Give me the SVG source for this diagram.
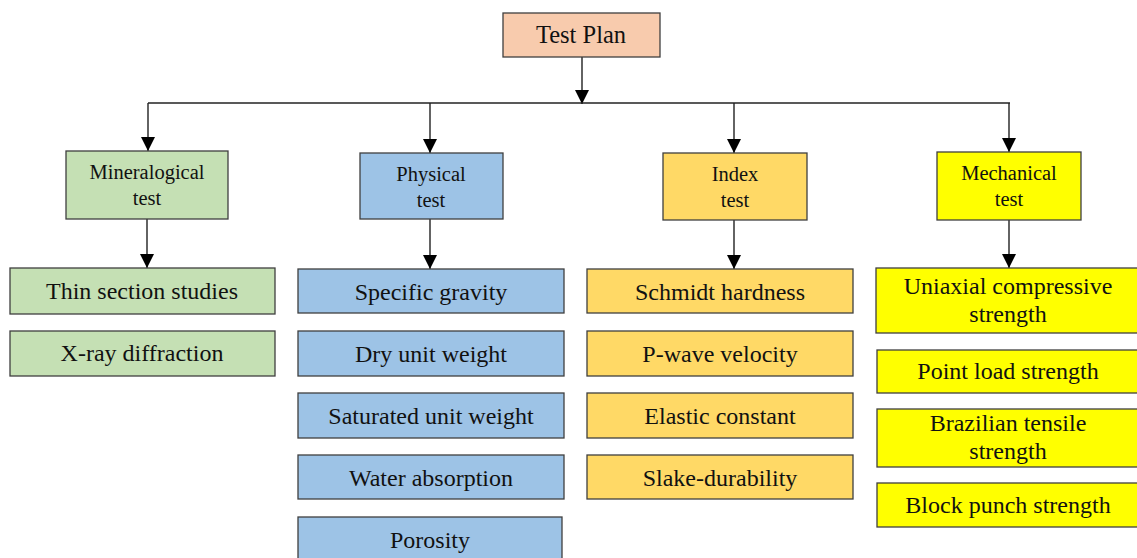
<svg xmlns="http://www.w3.org/2000/svg" width="1137" height="558" viewBox="0 0 1137 558">
<style>
.box{stroke:#3f3f3f;stroke-width:1.3}
.root{fill:#F8CBAD}
.min{fill:#C5E0B4}
.phy{fill:#9DC3E6}
.idx{fill:#FFD966}
.mec{fill:#FFFF00}
text{font-family:"Liberation Serif","Times New Roman",serif;fill:#111;text-anchor:middle}
.t1{font-size:24.5px}
.t2{font-size:20.5px}
.t3{font-size:24px}
.ln{stroke:#222;stroke-width:1.4;fill:none}
</style>
<defs>
<marker id="ah" markerUnits="userSpaceOnUse" markerWidth="14" markerHeight="14" refX="14" refY="7" orient="auto" viewBox="0 0 14 14">
<path d="M0,0 L14,7 L0,14 z" fill="#000"/>
</marker>
</defs>
<g id="connectors">
<line class="ln" x1="582" y1="57" x2="582" y2="104" marker-end="url(#ah)"/>
<line class="ln" x1="148" y1="103" x2="1010" y2="103"/>
<line class="ln" x1="148" y1="103" x2="148" y2="151" marker-end="url(#ah)"/>
<line class="ln" x1="430" y1="103" x2="430" y2="153" marker-end="url(#ah)"/>
<line class="ln" x1="734" y1="103" x2="734" y2="153" marker-end="url(#ah)"/>
<line class="ln" x1="1009" y1="103" x2="1009" y2="152" marker-end="url(#ah)"/>
<line class="ln" x1="147" y1="219" x2="147" y2="268" marker-end="url(#ah)"/>
<line class="ln" x1="430" y1="219" x2="430" y2="269" marker-end="url(#ah)"/>
<line class="ln" x1="734" y1="220" x2="734" y2="269" marker-end="url(#ah)"/>
<line class="ln" x1="1009" y1="220" x2="1009" y2="268" marker-end="url(#ah)"/>
</g>
<g id="test-plan"><rect class="box root" x="503" y="13" width="157" height="44"/><text class="t1" x="581" y="43">Test Plan</text></g>
<g id="mineralogical"><rect class="box min" x="66" y="151" width="162" height="68"/><text class="t2" x="147" y="179">Mineralogical</text><text class="t2" x="147" y="205">test</text></g>
<g id="physical"><rect class="box phy" x="360" y="153" width="143" height="66"/><text class="t2" x="431" y="181">Physical</text><text class="t2" x="431" y="207">test</text></g>
<g id="index"><rect class="box idx" x="663" y="153" width="144" height="67"/><text class="t2" x="735" y="181">Index</text><text class="t2" x="735" y="207">test</text></g>
<g id="mechanical"><rect class="box mec" x="937" y="152" width="144" height="68"/><text class="t2" x="1009" y="180">Mechanical</text><text class="t2" x="1009" y="206">test</text></g>

<g id="thin-section"><rect class="box min" x="10" y="268" width="265" height="46"/><text class="t3" x="142" y="299">Thin section studies</text></g>
<g id="xray"><rect class="box min" x="10" y="331" width="265" height="45"/><text class="t3" x="142" y="361">X-ray diffraction</text></g>

<g id="specific-gravity"><rect class="box phy" x="298" y="269" width="266" height="44"/><text class="t3" x="431" y="300">Specific gravity</text></g>
<g id="dry-unit-weight"><rect class="box phy" x="298" y="331" width="266" height="45"/><text class="t3" x="431" y="362">Dry unit weight</text></g>
<g id="saturated-unit-weight"><rect class="box phy" x="298" y="393" width="266" height="45"/><text class="t3" x="431" y="424">Saturated unit weight</text></g>
<g id="water-absorption"><rect class="box phy" x="298" y="455" width="266" height="44"/><text class="t3" x="431" y="486">Water absorption</text></g>
<g id="porosity"><rect class="box phy" x="298" y="517" width="264" height="45"/><text class="t3" x="430" y="548">Porosity</text></g>

<g id="schmidt"><rect class="box idx" x="587" y="269" width="266" height="44"/><text class="t3" x="720" y="300">Schmidt hardness</text></g>
<g id="pwave"><rect class="box idx" x="587" y="331" width="266" height="45"/><text class="t3" x="720" y="362">P-wave velocity</text></g>
<g id="elastic"><rect class="box idx" x="587" y="393" width="266" height="45"/><text class="t3" x="720" y="424">Elastic constant</text></g>
<g id="slake"><rect class="box idx" x="587" y="455" width="266" height="44"/><text class="t3" x="720" y="486">Slake-durability</text></g>

<g id="ucs"><rect class="box mec" x="876" y="268" width="263" height="65"/><text class="t3" x="1008" y="294">Uniaxial compressive</text><text class="t3" x="1008" y="322">strength</text></g>
<g id="point-load"><rect class="box mec" x="877" y="350" width="262" height="43"/><text class="t3" x="1008" y="379">Point load strength</text></g>
<g id="brazilian"><rect class="box mec" x="877" y="409" width="262" height="58"/><text class="t3" x="1008" y="431">Brazilian tensile</text><text class="t3" x="1008" y="459">strength</text></g>
<g id="block-punch"><rect class="box mec" x="877" y="483" width="262" height="44"/><text class="t3" x="1008" y="513">Block punch strength</text></g>
</svg>
